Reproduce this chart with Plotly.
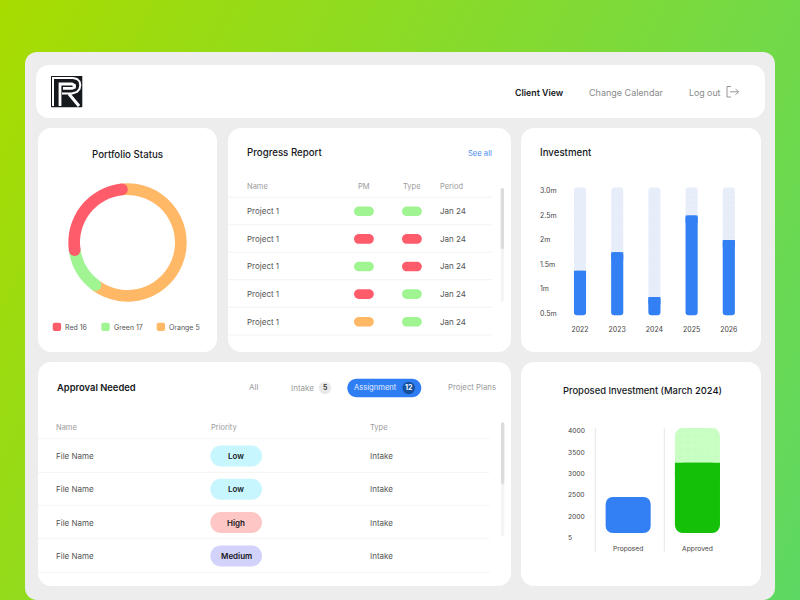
import base64
import math
import plotly.graph_objects as go

# ---------- data ----------
donut_names = ["Orange", "Green", "Red"]
donut_arcs = [61.9, 12.5, 25.6]            # share of the ring as drawn
legend_labels = ["Red 16", "Green 17", "Orange 5"]

invest_years = ["2022", "2023", "2024", "2025", "2026"]
invest_values = [1.37, 1.75, 0.83, 2.5, 2.0]
invest_floor = 0.46
invest_cap = 3.07
invest_ticks = [0.5, 1, 1.5, 2, 2.5, 3]
invest_ticktext = ["0.5m", "1m", "1.5m", "2m", "2.5m", "3.0m"]

prop_cats = ["Proposed", "Approved"]
prop_value = 2453
appr_value = 3257
appr_cap = 4070
prop_floor = 1609
prop_ticks = [1500, 2000, 2500, 3000, 3500, 4000]
prop_ticktext = ["5", "2000", "2500", "3000", "3500", "4000"]

progress_cols = ["Name", "PM", "Type", "Period"]
progress_names = ["Project 1"] * 5
progress_pm = ["g", "r", "g", "r", "o"]
progress_type = ["g", "r", "r", "g", "g"]
progress_period = ["Jan 24"] * 5

approval_cols = ["Name", "Priority", "Type"]
approval_names = ["File Name"] * 4
approval_priority = ["Low", "Low", "High", "Medium"]
approval_type = ["Intake"] * 4

# ---------- style ----------
FONT = "Inter"
BLUE = "#3280f4"
RED = "#ff5c6b"
GREEN = "#a0f592"
ORANGE = "#ffb865"
PANEL = "#ededed"
INK = "#15181c"
GREY = "#9b9b9b"
MID = "#555555"
STATUS = {"g": GREEN, "r": RED, "o": ORANGE}
PRIORITY = {"Low": "#c8f6ff", "High": "#ffc6c6", "Medium": "#d2d2fa"}


def X(v):
    return v / 800


def Y(v):
    return 1 - v / 600


def rr_path(x0, y0, x1, y1, r):
    k = r * 0.448  # control-point inset for a circular corner
    pts = [
        f"M{X(x0 + r)},{Y(y0)}", f"L{X(x1 - r)},{Y(y0)}",
        f"C{X(x1 - k)},{Y(y0)} {X(x1)},{Y(y0 + k)} {X(x1)},{Y(y0 + r)}", f"L{X(x1)},{Y(y1 - r)}",
        f"C{X(x1)},{Y(y1 - k)} {X(x1 - k)},{Y(y1)} {X(x1 - r)},{Y(y1)}", f"L{X(x0 + r)},{Y(y1)}",
        f"C{X(x0 + k)},{Y(y1)} {X(x0)},{Y(y1 - k)} {X(x0)},{Y(y1 - r)}", f"L{X(x0)},{Y(y0 + r)}",
        f"C{X(x0)},{Y(y0 + k)} {X(x0 + k)},{Y(y0)} {X(x0 + r)},{Y(y0)}", "Z",
    ]
    return " ".join(pts)


shapes = []
annots = []


def rrect(x0, y0, x1, y1, r, fill):
    shapes.append(dict(type="path", xref="paper", yref="paper", path=rr_path(x0, y0, x1, y1, r),
                       fillcolor=fill, line=dict(width=0), layer="below"))


def hline(x0, x1, y, color="#f3f3f3", w=1):
    shapes.append(dict(type="line", xref="paper", yref="paper", x0=X(x0), x1=X(x1), y0=Y(y), y1=Y(y),
                       line=dict(color=color, width=w), layer="below"))


def vline(x, y0, y1, color="#e6e6e6", w=1):
    shapes.append(dict(type="line", xref="paper", yref="paper", x0=X(x), x1=X(x), y0=Y(y0), y1=Y(y1),
                       line=dict(color=color, width=w), layer="below"))


def stroke(points, color, w):
    d = []
    for i, (a, b) in enumerate(points):
        d.append(f"{'M' if i == 0 else 'L'}{X(a)},{Y(b)}")
    shapes.append(dict(type="path", xref="paper", yref="paper", path=" ".join(d),
                       line=dict(color=color, width=w), fillcolor="rgba(0,0,0,0)", layer="below"))


def circle(cx, cy, r, fill, layer="below"):
    shapes.append(dict(type="circle", xref="paper", yref="paper", x0=X(cx - r), x1=X(cx + r),
                       y0=Y(cy + r), y1=Y(cy - r), fillcolor=fill, line=dict(width=0), layer=layer))


def text(x, y, s, size=8, color=MID, anchor="left", weight=400):
    annots.append(dict(xref="paper", yref="paper", x=X(x), y=Y(y), text=s, showarrow=False,
                       xanchor=anchor, yanchor="middle", xshift=0,
                       font=dict(family=FONT, size=size, color=color, weight=weight),
                       borderpad=0, borderwidth=0))


# ---------- frame ----------
rrect(25, 52, 775, 600, 12, PANEL)
rrect(36, 65, 765, 118, 13, "white")
for box in [(38, 128, 217, 352), (228, 128, 511, 352), (521, 128, 761, 352),
            (38, 362, 511, 586), (521, 362, 761, 586)]:
    rrect(*box, 13, "white")

# logo
rrect(51, 76, 82.3, 107.3, 0.5, INK)
stroke([(53, 106), (53, 78), (73, 78), (77, 79), (79.5, 81.4), (80.3, 85), (79.5, 89), (77, 92),
        (72, 93.5), (62, 93.5)], "white", 2)
stroke([(60, 106), (60, 84), (72, 84), (74.5, 85.3), (74.5, 87.3), (72, 88.3), (63, 88.3)], "white", 2.8)
stroke([(69, 94), (79, 106)], "white", 3)

# header nav
text(514.5, 92, "Client View", 8.8, INK, weight=600)
text(589, 92, "Change Calendar", 9, "#8a8a8a")
text(689, 92, "Log out", 8.8, "#8a8a8a")
stroke([(731, 86.5), (727, 86.5), (727, 97), (731, 97)], "#8a8a8a", 0.9)
stroke([(730, 91.8), (738.5, 91.8)], "#8a8a8a", 0.9)
stroke([(735.5, 88.8), (738.5, 91.8), (735.5, 94.8)], "#8a8a8a", 0.9)

# portfolio card
text(127.5, 154.3, "Portfolio Status", 9.7, INK, "center", 500)
for lab, col, sx, tx in zip(legend_labels, [RED, GREEN, ORANGE], [52.7, 101.3, 156.7], [65, 114, 169.3]):
    rrect(sx, 322.7, sx + 8.4, 331, 2, col)
    text(tx, 327, lab, 7, MID)

# progress table
text(247, 152.7, "Progress Report", 9.7, INK, weight=500)
text(492, 153, "See all", 7.6, "#4d8bf5", "right")
text(247, 186, progress_cols[0], 7.5, GREY)
text(363.7, 186, progress_cols[1], 7.5, GREY, "center")
text(411.7, 186, progress_cols[2], 7.5, GREY, "center")
text(440, 186, progress_cols[3], 7.5, GREY)
for y in [197.3, 224.8, 252.3, 279.8, 307.3, 335]:
    hline(228, 492, y)
for i, (nm, pm, ty, per) in enumerate(zip(progress_names, progress_pm, progress_type, progress_period)):
    cy = 211.3 + i * 27.6
    text(247, cy, nm, 8, MID)
    rrect(354, cy - 4.8, 373.8, cy + 4.8, 4.8, STATUS[pm])
    rrect(402, cy - 4.8, 421.8, cy + 4.8, 4.8, STATUS[ty])
    text(440, cy, per, 8, MID)
rrect(500.7, 188, 504, 301.7, 1.6, "#f4f4f4")
rrect(500.7, 188, 504, 249, 1.6, "#dcdcdc")

# investment title
text(540, 152.7, "Investment", 9.7, INK, weight=500)

# approval table
text(56.5, 388, "Approval Needed", 9.4, INK, weight=600)
text(249, 387, "All", 8, GREY)
text(290.7, 388, "Intake", 8, GREY)
circle(325, 388, 6.2, "#e9e9e9")
text(325, 388, "5", 7, "#333333", "center", 600)
rrect(347.3, 378.7, 421.3, 397.3, 9.3, "#2e7df2")
text(354, 388, "Assignment", 7.6, "#e8f0ff")
circle(408.7, 388, 6.2, "#15509f")
text(408.7, 388, "12", 7, "white", "center", 700)
text(447.7, 387, "Project Plans", 7.8, GREY)
for x, lab in zip([56.3, 210.7, 370], approval_cols):
    text(x, 427.7, lab, 7.5, GREY)
for y in [438.7, 472.3, 505.3, 538.3, 572.3]:
    hline(38, 489.5, y)
for i, (nm, pr, ty) in enumerate(zip(approval_names, approval_priority, approval_type)):
    cy = 456 + i * 33.3
    text(56.3, cy, nm, 8, MID)
    rrect(210.3, cy - 10.5, 262, cy + 10.5, 10.5, PRIORITY[pr])
    text(236, cy, pr, 8, INK, "center", 600)
    text(370, cy, ty, 8, MID)
rrect(501, 422.3, 504.3, 536.7, 1.6, "#f4f4f4")
rrect(501, 422.3, 504.3, 484, 1.6, "#dcdcdc")

# proposed title + dividers
text(642.5, 390, "Proposed Investment (March 2024)", 9.4, INK, "center", 500)
vline(595.3, 428, 551.7)
vline(664.3, 428, 551.7)

# ---------- donut ----------
CX, CY, R_OUT, R_IN = 127.5, 242.5, 59.2, 47.5
ROT = -6
fig = go.Figure()
fig.add_trace(go.Pie(labels=donut_names, values=donut_arcs, sort=False, direction="clockwise", rotation=ROT,
                     hole=R_IN / R_OUT, textinfo="none", showlegend=False,
                     marker=dict(colors=[ORANGE, GREEN, RED], line=dict(width=0)),
                     domain=dict(x=[X(CX - R_OUT), X(CX + R_OUT)], y=[Y(CY + R_OUT), Y(CY - R_OUT)])))
# round ends of the ring follow the slice boundaries
total = sum(donut_arcs)
start = math.radians(ROT)
b_orange = start + donut_arcs[0] / total * 2 * math.pi
b_green = start + (donut_arcs[0] + donut_arcs[1]) / total * 2 * math.pi
RM = (R_OUT + R_IN) / 2
RC = (R_OUT - R_IN) / 2
circle(CX + RM * math.sin(b_orange), CY - RM * math.cos(b_orange), RC, GREEN, "above")
circle(CX + RM * math.sin(b_green), CY - RM * math.cos(b_green), RC, RED, "above")
circle(CX + RM * math.sin(start), CY - RM * math.cos(start), RC, RED, "above")

# ---------- investment bars ----------
SQ_I = 0.15
fig.add_trace(go.Bar(x=invest_years, y=[invest_cap - invest_floor] * 5, base=[invest_floor] * 5, width=0.325,
                     marker=dict(color="#e7eefa", cornerradius=3, line=dict(width=0),
                                 pattern=dict(shape=".", fgcolor="#dbe5f6", size=5, solidity=0.1)),
                     xaxis="x", yaxis="y", showlegend=False))
fig.add_trace(go.Bar(x=invest_years, y=[v - invest_floor for v in invest_values], base=[invest_floor] * 5, width=0.325,
                     marker=dict(color=BLUE, cornerradius=3, line=dict(width=0)),
                     xaxis="x", yaxis="y", showlegend=False))
# square top edge on the filled part
fig.add_trace(go.Bar(x=invest_years, y=[SQ_I] * 5, base=[v - SQ_I for v in invest_values], width=0.325,
                     marker=dict(color=BLUE, line=dict(width=0)),
                     xaxis="x", yaxis="y", showlegend=False))

# ---------- proposed bars ----------
SQ_P = 300
fig.add_trace(go.Bar(x=prop_cats[1:], y=[appr_cap - prop_floor], base=[prop_floor], width=0.65,
                     marker=dict(color="#c9ffc3", cornerradius=8, line=dict(width=0),
                                 pattern=dict(shape=".", fgcolor="#b4f3ad", size=7, solidity=0.07)),
                     xaxis="x2", yaxis="y2", showlegend=False))
fig.add_trace(go.Bar(x=prop_cats[1:], y=[appr_value - prop_floor], base=[prop_floor], width=0.65,
                     marker=dict(color="#14c008", cornerradius=8, line=dict(width=0)),
                     xaxis="x2", yaxis="y2", showlegend=False))
fig.add_trace(go.Bar(x=prop_cats[1:], y=[SQ_P], base=[appr_value - SQ_P], width=0.65,
                     marker=dict(color="#14c008", line=dict(width=0)),
                     xaxis="x2", yaxis="y2", showlegend=False))
fig.add_trace(go.Bar(x=prop_cats[:1], y=[prop_value - prop_floor], base=[prop_floor], width=0.65,
                     marker=dict(color=BLUE, cornerradius=7, line=dict(width=0)),
                     xaxis="x2", yaxis="y2", showlegend=False))

# ---------- background gradient ----------
svg = ('<svg xmlns="http://www.w3.org/2000/svg" width="800" height="600" viewBox="0 0 800 600" '
       'preserveAspectRatio="none"><defs><linearGradient id="g" gradientUnits="userSpaceOnUse" '
       'x1="0" y1="0" x2="949" y2="465"><stop offset="0" stop-color="#a8dc00"/>'
       '<stop offset="1" stop-color="#58d86a"/></linearGradient></defs>'
       '<rect width="800" height="600" fill="url(#g)"/></svg>')
bg = "data:image/svg+xml;base64," + base64.b64encode(svg.encode()).decode()

tickfont = dict(family=FONT, size=7, color="#444444")
tickfont2 = dict(family=FONT, size=6.7, color="#444444")
fig.update_layout(
    width=800, height=600, margin=dict(l=0, r=0, t=0, b=0), autosize=False,
    paper_bgcolor="white", plot_bgcolor="rgba(0,0,0,0)", barmode="overlay", showlegend=False,
    shapes=shapes, annotations=annots,
    images=[dict(source=bg, xref="paper", yref="paper", x=0, y=1, sizex=1, sizey=1, sizing="stretch",
                 xanchor="left", yanchor="top", layer="below")],
    xaxis=dict(domain=[X(561.4), X(747.4)], anchor="y", type="category", categoryorder="array",
               categoryarray=invest_years, showgrid=False, zeroline=False, showline=False,
               ticks="outside", ticklen=3, tickcolor="rgba(0,0,0,0)", tickfont=tickfont),
    yaxis=dict(domain=[Y(320), Y(185)], range=[0.362, 3.123], anchor="free", position=X(536),
               ticklabelposition="inside", tickvals=invest_ticks, ticktext=invest_ticktext,
               showgrid=False, zeroline=False, showline=False, ticks="", tickfont=tickfont),
    xaxis2=dict(domain=[X(593.5), X(732.1)], anchor="free", position=Y(540), type="category",
                categoryorder="array", categoryarray=prop_cats, showgrid=False, zeroline=False, showline=False,
                ticks="outside", ticklen=2, tickcolor="rgba(0,0,0,0)", tickfont=tickfont2),
    yaxis2=dict(domain=[Y(552), Y(425)], range=[1164, 4141], anchor="free", position=X(564),
                ticklabelposition="inside", tickvals=prop_ticks, ticktext=prop_ticktext,
                showgrid=False, zeroline=False, showline=False, ticks="", tickfont=tickfont2),
)

fig.write_html("out.html", config=dict(displayModeBar=False),
               post_script="document.body.style.margin='0';document.body.style.overflow='hidden';")
